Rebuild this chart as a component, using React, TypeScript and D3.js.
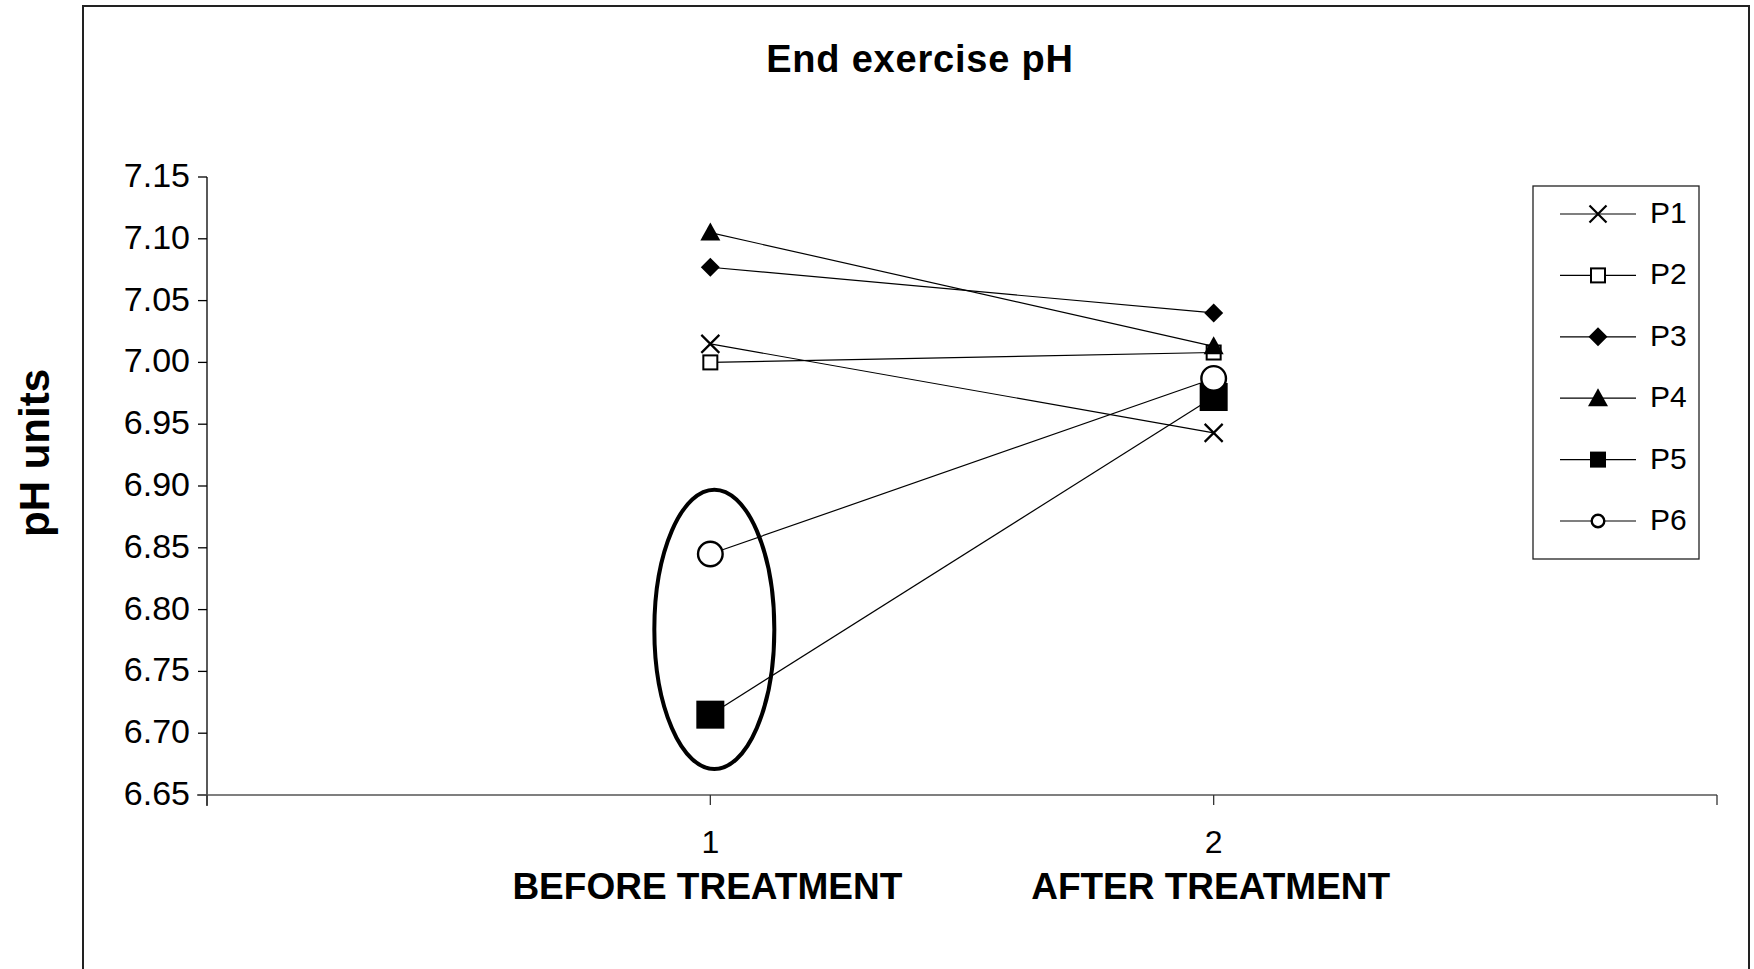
import * as d3 from 'd3';

// chart values
const categories = [1, 2];
const categoryNames = ['BEFORE TREATMENT', 'AFTER TREATMENT'];
const xTicks = [0, 1, 2, 3];
const yTicks = [6.65, 6.7, 6.75, 6.8, 6.85, 6.9, 6.95, 7.0, 7.05, 7.1, 7.15];

const seriesNames = ['P1', 'P2', 'P3', 'P4', 'P5', 'P6'];
const p1 = [7.015, 6.943];
const p2 = [7.0, 7.008];
const p3 = [7.077, 7.04];
const p4 = [7.105, 7.013];
const p5 = [6.715, 6.972];
const p6 = [6.845, 6.987];
const seriesValues = [p1, p2, p3, p4, p5, p6];

// the ring drawn round the two low points before treatment
const ringCategory = 1;
const ringRange = [6.671, 6.897];

const W = 1754;
const H = 969;
const FONT = '"Liberation Sans", Arial, sans-serif';

// marker look per series: [kind, size in chart, size in legend]
const markerStyle: [string, number, number][] = [
  ['x', 18, 17],
  ['osquare', 14, 14],
  ['diamond', 19, 19],
  ['triangle', 20, 20],
  ['square', 28, 16],
  ['circle', 27, 15],
];

function Marker({ kind, cx, cy, s }: { kind: string; cx: number; cy: number; s: number }) {
  const h = s / 2;
  if (kind === 'x') {
    return (
      <path
        d={`M${cx - h},${cy - h}L${cx + h},${cy + h}M${cx - h},${cy + h}L${cx + h},${cy - h}`}
        stroke="#000"
        strokeWidth={2.2}
        fill="none"
      />
    );
  }
  if (kind === 'osquare') {
    return <rect x={cx - h} y={cy - h} width={s} height={s} fill="#fff" stroke="#000" strokeWidth={2} />;
  }
  if (kind === 'square') {
    return <rect x={cx - h} y={cy - h} width={s} height={s} fill="#000" />;
  }
  if (kind === 'diamond') {
    return <path d={`M${cx},${cy - h}L${cx + h},${cy}L${cx},${cy + h}L${cx - h},${cy}Z`} fill="#000" />;
  }
  if (kind === 'triangle') {
    return <path d={`M${cx},${cy - h}L${cx + h},${cy + h * 0.8}L${cx - h},${cy + h * 0.8}Z`} fill="#000" />;
  }
  return <circle cx={cx} cy={cy} r={h - 1.2} fill="#fff" stroke="#000" strokeWidth={2.4} />;
}

export default function App() {
  const x = d3.scaleLinear().domain([0, 3]).range([207, 1717]);
  const y = d3.scaleLinear().domain([6.65, 7.15]).range([795, 177]);
  const line = d3
    .line<number>()
    .x((_, i) => x(categories[i]))
    .y((d) => y(d));

  const legendY = d3.scalePoint<string>().domain(seriesNames).range([214, 521]);
  const ringCy = (y(ringRange[0]) + y(ringRange[1])) / 2;
  const ringRy = (y(ringRange[0]) - y(ringRange[1])) / 2;

  return (
    <div style={{ position: 'absolute', left: 0, top: 0 }}>
      <svg width={W} height={H} style={{ display: 'block', fontFamily: FONT }}>
        <rect width={W} height={H} fill="#fff" />
        {/* outer chart frame, open at the bottom */}
        <path d={`M83,${H}V6H1749V${H}`} fill="none" stroke="#222" strokeWidth={2} />

        <text x={920} y={72} textAnchor="middle" fontSize={38} fontWeight="bold" letterSpacing={0.8}>
          End exercise pH
        </text>

        <text
          transform={`translate(49,453) rotate(-90)`}
          textAnchor="middle"
          fontSize={42}
          fontWeight="bold"
        >
          pH units
        </text>

        {/* y axis */}
        <line x1={207} x2={207} y1={y(7.15)} y2={806} stroke="#000" strokeWidth={1.3} />
        {yTicks.map((t) => (
          <g key={t}>
            <line x1={198} x2={207} y1={y(t)} y2={y(t)} stroke="#000" strokeWidth={1.3} />
            <text x={190} y={y(t) + 1} textAnchor="end" fontSize={34} dominantBaseline="middle">
              {d3.format('.2f')(t)}
            </text>
          </g>
        ))}

        {/* x axis */}
        <line x1={x(0) - 10} x2={x(3)} y1={y(6.65)} y2={y(6.65)} stroke="#555" strokeWidth={1.6} />
        {xTicks.map((t) => (
          <line key={t} x1={x(t)} x2={x(t)} y1={y(6.65)} y2={y(6.65) + 10} stroke="#333" strokeWidth={1.3} />
        ))}
        {categories.map((c, i) => (
          <g key={c}>
            <text x={x(c)} y={853} textAnchor="middle" fontSize={32}>
              {c}
            </text>
            <text x={x(c) + (i === 0 ? -3 : -3)} y={899} textAnchor="middle" fontSize={37} fontWeight="bold">
              {categoryNames[i]}
            </text>
          </g>
        ))}

        {/* series */}
        {seriesValues.map((vals, si) => (
          <g key={seriesNames[si]}>
            <path d={line(vals) || ''} fill="none" stroke="#000" strokeWidth={1.2} />
            {vals.map((v, i) => (
              <Marker key={i} kind={markerStyle[si][0]} cx={x(categories[i])} cy={y(v)} s={markerStyle[si][1]} />
            ))}
          </g>
        ))}

        <ellipse
          cx={x(ringCategory) + 4}
          cy={ringCy}
          rx={60}
          ry={ringRy}
          fill="none"
          stroke="#000"
          strokeWidth={4}
        />

        {/* legend */}
        <rect x={1533} y={186} width={166} height={373} fill="#fff" stroke="#222" strokeWidth={1.3} />
        {seriesNames.map((name, si) => {
          const ly = legendY(name) as number;
          return (
            <g key={name}>
              <line x1={1560} x2={1636} y1={ly} y2={ly} stroke="#000" strokeWidth={1.2} />
              <Marker kind={markerStyle[si][0]} cx={1598} cy={ly} s={markerStyle[si][2]} />
              <text x={1650} y={ly + 1} fontSize={30} dominantBaseline="middle">
                {name}
              </text>
            </g>
          );
        })}
      </svg>
    </div>
  );
}
